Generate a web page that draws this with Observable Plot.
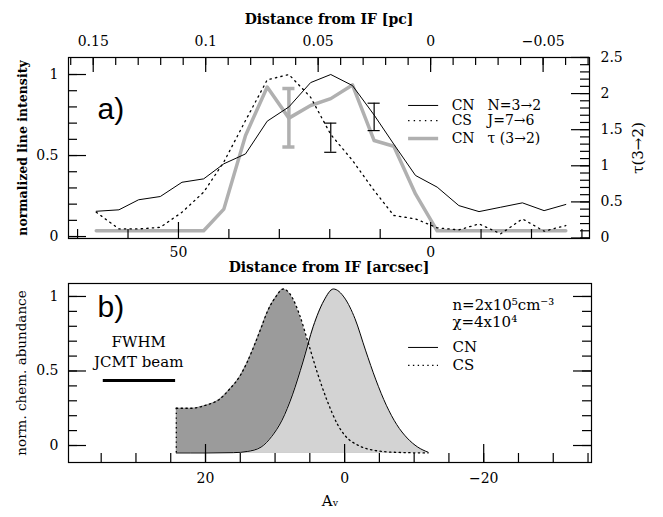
<!DOCTYPE html>
<html><head><meta charset="utf-8">
<script src="https://cdn.jsdelivr.net/npm/d3@7"></script>
<script src="https://cdn.jsdelivr.net/npm/@observablehq/plot@0.6"></script>
<style>
body{margin:0;background:#fff;}
#chart{width:663px;height:517px;position:relative;overflow:hidden;background:#fff;}
#chart svg{display:block;overflow:visible;}
</style></head><body><div id="chart"></div>
<script>
// ---------- panel a data (observations) ----------
const offsetsArcsec = [66.3, 61.8, 57.9, 53.6, 49.3, 45.0, 41.0, 36.7, 32.4, 28.1, 23.8, 19.8, 15.5, 11.2, 7.3, 3.0, -1.3, -5.6, -9.6, -13.9, -18.2, -22.5, -26.8];
const cnIntensity = [0.156, 0.165, 0.227, 0.247, 0.335, 0.356, 0.449, 0.51, 0.712, 0.80, 0.95, 1.0, 0.932, 0.75, 0.57, 0.377, 0.305, 0.191, 0.154, 0.181, 0.208, 0.16, 0.198];
const csIntensity = [0.15, 0.047, 0.047, 0.057, 0.15, 0.274, 0.46, 0.716, 0.967, 1.0, 0.86, 0.63, 0.47, 0.284, 0.13, 0.109, 0.054, 0.041, 0.078, 0.017, 0.109, 0.033, 0.068];
const cnTau = [0.1, 0.1, 0.1, 0.1, 0.1, 0.1, 0.40, 1.42, 2.09, 1.66, 1.835, 1.93, 2.12, 1.35, 1.27, 0.61, 0.1, 0.1, 0.1, 0.1, 0.1, 0.1, 0.1];
const tauErrors = [{x: 28.1, lo: 1.26, hi: 2.07}];
const intensityErrors = [{x: 19.8, lo: 0.52, hi: 0.70}, {x: 11.2, lo: 0.654, hi: 0.823}];

// ---------- panel b data (model) ----------
const cnModelAv = [24.2, 20, 16, 14, 12, 10.5, 9, 7.5, 6, 4.5, 3, 1.6, 0, -1.5, -3, -4.5, -6, -7.5, -9, -10.5, -12];
const cnModelAb = [-0.05, -0.05, -0.048, -0.04, -0.01, 0.06, 0.17, 0.34, 0.56, 0.80, 0.97, 1.05, 0.99, 0.85, 0.64, 0.44, 0.27, 0.14, 0.05, -0.01, -0.045];
const csModelAv = [24.2, 22, 20, 18, 16.5, 15, 14, 13, 12, 11, 10, 8.8, 7.5, 6.5, 5.3, 4, 2.5, 1, 0, -2, -4, -7, -12];
const csModelAb = [0.25, 0.25, 0.27, 0.31, 0.38, 0.47, 0.56, 0.67, 0.79, 0.91, 0.99, 1.05, 0.99, 0.88, 0.70, 0.50, 0.30, 0.14, 0.07, 0.0, -0.03, -0.045, -0.05];
const modelBaseline = -0.05;
const beam = [{from: 34.7, to: 24.3, v: 0.436}];

// ---------- ticks ----------
const intMajor = [0, 0.5, 1], intLabels = ["0", "0.5", "1"];
const intMinor = d3.range(0, 11).map(i => i / 10);
const tauMajor = [0, 0.5, 1, 1.5, 2, 2.5], tauLabels = ["0", "0.5", "1", "1.5", "2", "2.5"];
const tauMinor = d3.range(0, 26).map(i => i / 10);
const arcMajor = [50, 0], arcLabels = ["50", "0"];
const arcMinor = [70, 60, 40, 30, 20, 10, -10, -20, -30];
const pcMajor = [0.15, 0.1, 0.05, 0, -0.05], pcLabels = ["0.15", "0.1", "0.05", "0", "\u22120.05"];
const pcMinor = d3.range(-7, 17).map(i => i / 100);
const avMajor = [20, 0, -20], avLabels = ["20", "0", "\u221220"];
const avMinor = d3.range(-35, 40, 5);
const abMajor = [0, 0.5, 1], abLabels = ["0", "0.5", "1"];
const abMinor = d3.range(0, 11).map(i => i / 10);

const ARCSEC_PER_PC = 446;
const tauToV = t => t * 0.4457 - 0.009;

const FONT = "DejaVu Serif";
const GRAY = "#b0b0b0";
const DOTS = "1.4,4.2";
const look = (vals, labels, f = d => d) => d => { const i = vals.findIndex(v => Math.abs(f(v) - d) < 1e-9); return i < 0 ? "" : labels[i]; };

// ---------- panel a ----------
const rowsA = offsetsArcsec.map((a, i) => ({a, cn: cnIntensity[i], cs: csIntensity[i], tau: cnTau[i]}));
const WA = 663, HA = 280, mtA = 57, mbA = 42, mlA = 68, mrA = 74;
const FWA = WA - mlA - mrA, FHA = HA - mtA - mbA;
const cap = 1.2;
const capsTau = tauErrors.flatMap(e => [e.lo, e.hi].map(t => ({y: tauToV(t), x1: e.x - cap, x2: e.x + cap})));
const capsInt = intensityErrors.flatMap(e => [e.lo, e.hi].map(v => ({y: v, x1: e.x - cap, x2: e.x + cap})));
const legendA = [
  {name: "CN", trans: "N=3\u21922", v: 0.809},
  {name: "CS", trans: "J=7\u21926", v: 0.716},
  {name: "CN", trans: "\u03c4 (3\u21922)", v: 0.605}
];
const legX1 = 4.37, legX2 = -1.59;

const plotA = Plot.plot({
  width: WA, height: HA, marginTop: mtA, marginBottom: mbA, marginLeft: mlA, marginRight: mrA,
  style: {fontFamily: FONT, fontSize: "14px", background: "white", color: "black"},
  x: {domain: [71.8, -31.5], label: null},
  y: {domain: [-0.012, 1.105], label: null},
  marks: [
    Plot.line(rowsA, {x: "a", y: d => tauToV(d.tau), stroke: GRAY, strokeWidth: 3.5}),
    Plot.ruleX(tauErrors, {x: "x", y1: d => tauToV(d.lo), y2: d => tauToV(d.hi), stroke: GRAY, strokeWidth: 3.5}),
    Plot.ruleY(capsTau, {y: "y", x1: "x1", x2: "x2", stroke: GRAY, strokeWidth: 3.5}),
    Plot.line(rowsA, {x: "a", y: "cs", stroke: "black", strokeWidth: 1.3, strokeDasharray: DOTS}),
    Plot.line(rowsA, {x: "a", y: "cn", stroke: "black", strokeWidth: 1}),
    Plot.ruleX(intensityErrors, {x: "x", y1: "lo", y2: "hi", stroke: "black", strokeWidth: 1.2}),
    Plot.ruleY(capsInt, {y: "y", x1: "x1", x2: "x2", stroke: "black", strokeWidth: 1.2}),
    Plot.frame({stroke: "black", strokeWidth: 1.2}),
    // inward ticks
    Plot.tickY(intMinor, {y: d => d, insetRight: FWA - 9, strokeWidth: 1.2}),
    Plot.tickY(intMajor, {y: d => d, insetRight: FWA - 18, strokeWidth: 1.2}),
    Plot.tickY(tauMinor.map(tauToV), {y: d => d, insetLeft: FWA - 9, strokeWidth: 1.2}),
    Plot.tickY(tauMajor.map(tauToV), {y: d => d, insetLeft: FWA - 18, strokeWidth: 1.2}),
    Plot.tickX(arcMinor, {x: d => d, insetTop: FHA - 9, strokeWidth: 1.2}),
    Plot.tickX(arcMajor, {x: d => d, insetTop: FHA - 16, strokeWidth: 1.2}),
    Plot.tickX(pcMinor.map(p => p * ARCSEC_PER_PC), {x: d => d, insetBottom: FHA - 8, strokeWidth: 1.2}),
    Plot.tickX(pcMajor.map(p => p * ARCSEC_PER_PC), {x: d => d, insetBottom: FHA - 15, strokeWidth: 1.2}),
    // tick labels
    Plot.axisY(intMajor, {anchor: "left", tickSize: 0, tickPadding: 10, label: null, fontFamily: FONT, tickFormat: look(intMajor, intLabels)}),
    Plot.axisY(tauMajor.map(tauToV), {anchor: "right", tickSize: 0, tickPadding: 11, label: null, fontFamily: FONT, tickFormat: look(tauMajor, tauLabels, tauToV)}),
    Plot.axisX(arcMajor, {anchor: "bottom", tickSize: 0, tickPadding: 9, label: null, fontFamily: FONT, tickFormat: look(arcMajor, arcLabels)}),
    Plot.axisX(pcMajor.map(p => p * ARCSEC_PER_PC), {anchor: "top", tickSize: 0, tickPadding: 12, label: null, fontFamily: FONT, tickFormat: look(pcMajor, pcLabels, p => p * ARCSEC_PER_PC)}),
    // titles
    Plot.text(["Distance from IF [pc]"], {text: d => d, frameAnchor: "top", dy: -43, fontWeight: "bold", fontSize: 14}),
    Plot.text(["Distance from IF [arcsec]"], {text: d => d, frameAnchor: "bottom", dy: 33, fontWeight: "bold", fontSize: 14}),
    Plot.text(["normalized line intensity"], {text: d => d, frameAnchor: "left", textAnchor: "middle", dx: -46, rotate: -90, fontWeight: "bold", fontSize: 12.5}),
    Plot.text(["\u03c4(3\u21922)"], {text: d => d, frameAnchor: "right", textAnchor: "middle", dx: 49, rotate: -90, fontSize: 15}),
    Plot.text(["a)"], {text: d => d, frameAnchor: "top-left", dx: 29, dy: 40, textAnchor: "start", fontFamily: "Liberation Sans", fontSize: 30}),
    // legend
    Plot.ruleY(legendA.slice(0, 1), {y: "v", x1: () => legX1, x2: () => legX2, stroke: "black", strokeWidth: 1}),
    Plot.ruleY(legendA.slice(1, 2), {y: "v", x1: () => legX1, x2: () => legX2, stroke: "black", strokeWidth: 1.3, strokeDasharray: DOTS}),
    Plot.ruleY(legendA.slice(2, 3), {y: "v", x1: () => legX1, x2: () => legX2, stroke: GRAY, strokeWidth: 3.5}),
    Plot.text(legendA, {x: () => -4.17, y: "v", text: "name", textAnchor: "start", fontSize: 14}),
    Plot.text(legendA, {x: () => -11.3, y: "v", text: "trans", textAnchor: "start", fontSize: 14})
  ]
});

// ---------- panel b ----------
const cnModel = cnModelAv.map((av, i) => ({av, v: cnModelAb[i]}));
const csModel = csModelAv.map((av, i) => ({av, v: csModelAb[i]}));
const WB = 663, HB = 237, mtB = 3, mbB = 55, mlB = 68, mrB = 72;
const FWB = WB - mlB - mrB, FHB = HB - mtB - mbB;
const legendB = [
  {name: "CN", v: 0.658},
  {name: "CS", v: 0.537}
];
const paramsB = [{t: "n=2x10\u2075cm\u207b\u00b3", v: 0.94}, {t: "\u03c7=4x10\u2074", v: 0.826}];
const legBX1 = -9.2, legBX2 = -13.5;
const DOTSB = "1.4,3.4";

const plotB = Plot.plot({
  width: WB, height: HB, marginTop: mtB, marginBottom: mbB, marginLeft: mlB, marginRight: mrB,
  style: {fontFamily: FONT, fontSize: "14px", background: "white", color: "black"},
  x: {domain: [39.7, -35.5], label: null},
  y: {domain: [-0.114, 1.087], label: null},
  marks: [
    Plot.areaY(csModel, {x: "av", y1: () => modelBaseline, y2: "v", fill: "#9b9b9b", curve: "monotone-x"}),
    Plot.areaY(cnModel, {x: "av", y1: () => modelBaseline, y2: "v", fill: "#d3d3d3", curve: "monotone-x"}),
    Plot.ruleX(csModel.slice(0, 1), {x: "av", y1: () => modelBaseline, y2: "v", stroke: "black", strokeWidth: 1.3, strokeDasharray: DOTSB}),
    Plot.line(csModel, {x: "av", y: "v", stroke: "black", strokeWidth: 1.3, strokeDasharray: DOTSB, curve: "monotone-x"}),
    Plot.line(cnModel, {x: "av", y: "v", stroke: "black", strokeWidth: 1, curve: "monotone-x"}),
    Plot.ruleY(beam, {y: "v", x1: "from", x2: "to", stroke: "black", strokeWidth: 3}),
    Plot.text(["FWHM"], {text: d => d, x: () => 29.6, y: () => 0.69, fontSize: 15}),
    Plot.text(["JCMT beam"], {text: d => d, x: () => 29.6, y: () => 0.557, fontSize: 15}),
    Plot.frame({stroke: "black", strokeWidth: 1.2}),
    Plot.tickY(abMinor, {y: d => d, insetRight: FWB - 9, strokeWidth: 1.2}),
    Plot.tickY(abMajor, {y: d => d, insetRight: FWB - 18, strokeWidth: 1.2}),
    Plot.tickY(abMinor, {y: d => d, insetLeft: FWB - 9, strokeWidth: 1.2}),
    Plot.tickY(abMajor, {y: d => d, insetLeft: FWB - 18, strokeWidth: 1.2}),
    Plot.tickX(avMinor, {x: d => d, insetTop: FHB - 9, strokeWidth: 1.2}),
    Plot.tickX(avMajor, {x: d => d, insetTop: FHB - 18, strokeWidth: 1.2}),
    Plot.axisY(abMajor, {anchor: "left", tickSize: 0, tickPadding: 10, label: null, fontFamily: FONT, tickFormat: look(abMajor, abLabels)}),
    Plot.axisX(avMajor, {anchor: "bottom", tickSize: 0, tickPadding: 11, label: null, fontFamily: FONT, tickFormat: look(avMajor, avLabels)}),
    Plot.text(["A\u1d65"], {text: d => d, frameAnchor: "bottom", dy: 43, fontSize: 15}),
    Plot.text(["norm. chem. abundance"], {text: d => d, frameAnchor: "left", textAnchor: "middle", dx: -47, rotate: -90, fontSize: 13.5}),
    Plot.text(["b)"], {text: d => d, frameAnchor: "top-left", dx: 29, dy: 12, textAnchor: "start", fontFamily: "Liberation Sans", fontSize: 30}),
    Plot.text(paramsB, {x: () => -15.5, y: "v", text: "t", textAnchor: "start", fontSize: 15}),
    Plot.ruleY(legendB.slice(0, 1), {y: "v", x1: () => legBX1, x2: () => legBX2, stroke: "black", strokeWidth: 1}),
    Plot.ruleY(legendB.slice(1, 2), {y: "v", x1: () => legBX1, x2: () => legBX2, stroke: "black", strokeWidth: 1.3, strokeDasharray: DOTSB}),
    Plot.text(legendB, {x: () => -15.5, y: "v", text: "name", textAnchor: "start", fontSize: 15})
  ]
});

const root = document.getElementById("chart");
root.appendChild(plotA);
root.appendChild(plotB);
</script></body></html>
